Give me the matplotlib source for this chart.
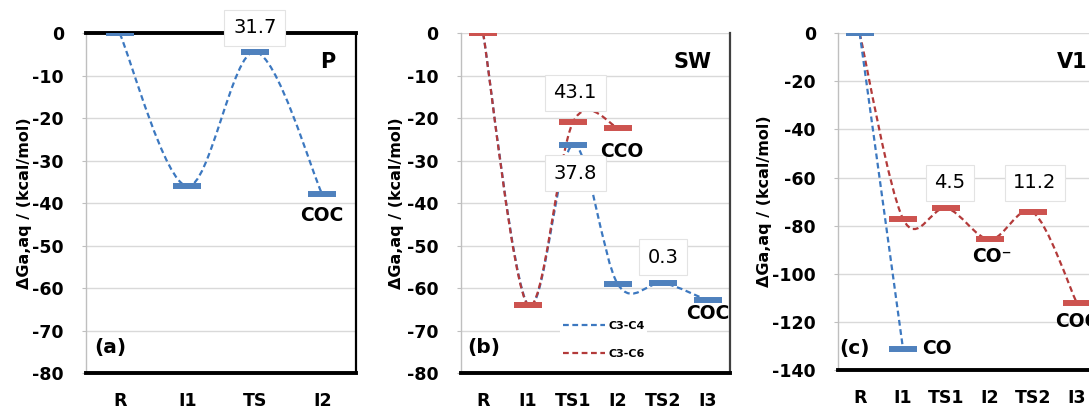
import matplotlib
matplotlib.use("Agg")
import matplotlib.pyplot as plt
from matplotlib.path import Path
from matplotlib.patches import PathPatch
from matplotlib.lines import Line2D

# ---- data (kcal/mol) ----
cats_a = ["R", "I1", "TS", "I2"]
p_path = [0.0, -36.0, -4.3, -37.9]

cats_b = ["R", "I1", "TS1", "I2", "TS2", "I3"]
sw_c3c4 = [0.0, -64.0, -26.2, -59.1, -58.8, -62.9]
sw_c3c6 = [0.0, -64.0, -20.9, -22.2]

cats_c = ["R", "I1", "TS1", "I2", "TS2", "I3"]
v1_co = [0.0, -131.4]
v1_coc = [0.0, -77.2, -72.7, -85.7, -74.5, -112.0]

BLUE_LINE = "#3C78C0"
BLUE_BAR = "#4F81BD"
RED_LINE = "#B33A3A"
RED_BAR = "#CD534F"
GRID = "#D9D9D9"

plt.rcParams["axes.unicode_minus"] = False
plt.rcParams["font.family"] = ["DejaVu Sans"]

fig = plt.figure(figsize=(10.89, 4.09), dpi=100)


def smooth_patch(ax, ys, color, x0=0):
    """Excel-style smoothed connector through the level centres."""
    pts = [(x0 + i, y) for i, y in enumerate(ys)]
    n = len(pts)
    verts = [pts[0]]
    codes = [Path.MOVETO]
    for i in range(n - 1):
        p_prev = pts[i - 1] if i > 0 else pts[i]
        p0 = pts[i]
        p1 = pts[i + 1]
        p_next = pts[i + 2] if i + 2 < n else pts[i + 1]
        c1 = (p0[0] + (p1[0] - p_prev[0]) / 6.0, p0[1] + (p1[1] - p_prev[1]) / 6.0)
        c2 = (p1[0] - (p_next[0] - p0[0]) / 6.0, p1[1] - (p_next[1] - p0[1]) / 6.0)
        verts += [c1, c2, p1]
        codes += [Path.CURVE4] * 3
    patch = PathPatch(Path(verts, codes), fill=False, edgecolor=color, lw=1.6,
                      linestyle=(0, (2.6, 1.6)), zorder=3)
    ax.add_patch(patch)


def levels(ax, ys, color, x0=0):
    xs = [x0 + i for i in range(len(ys))]
    ax.plot(xs, ys, linestyle="none", marker="_", markersize=19.5,
            markeredgewidth=4.3, color=color, zorder=4)


def style_axes(ax, cats, ylim, step, ylab_off):
    ax.set_xlim(-0.5, len(cats) - 0.5)
    ax.set_ylim(*ylim)
    ax.set_yticks(range(ylim[0], ylim[1] + 1, step))
    ax.set_xticks(range(len(cats)))
    ax.set_xticklabels(cats, fontsize=12.5, fontweight="bold")
    for lab in ax.get_yticklabels():
        lab.set_fontsize(12.5)
        lab.set_fontweight("bold")
    ax.tick_params(axis="x", length=0, pad=14)
    ax.tick_params(axis="y", length=3, width=0.8, color="#BFBFBF", pad=13)
    ax.grid(axis="y", color=GRID, lw=1.0, zorder=0)
    ax.set_axisbelow(True)
    ax.spines["left"].set_color("#BFBFBF")
    ax.spines["left"].set_linewidth(1.0)
    ax.spines["bottom"].set_color("black")
    ax.spines["bottom"].set_linewidth(2.8)
    ax.set_ylabel("ΔGa,aq / (kcal/mol)", fontsize=11.5, fontweight="bold")
    ax.yaxis.set_label_coords(ylab_off, 0.5)


def value_box(ax, x, y, text):
    ax.text(x, y, text, ha="center", va="center", fontsize=14, zorder=6,
            clip_on=False,
            bbox=dict(boxstyle="square,pad=0.45", fc="white", ec="#E3E3E3", lw=0.8))


def tag(ax, x, y, text, size=13.5, ha="center", transform=None):
    kw = {} if transform is None else {"transform": transform}
    ax.text(x, y, text, ha=ha, va="center", fontsize=size, fontweight="bold",
            zorder=6, clip_on=False, **kw)


# ---- (a) pyrrolic / P ----
ax1 = fig.add_axes([0.0790, 0.0880, 0.2479, 0.8301])
style_axes(ax1, cats_a, (-80, 0), 10, -54 / 270)
ax1.spines["top"].set_color("black")
ax1.spines["top"].set_linewidth(2.8)
ax1.spines["right"].set_color("black")
ax1.spines["right"].set_linewidth(1.6)
smooth_patch(ax1, p_path, BLUE_LINE)
levels(ax1, p_path, BLUE_BAR)
value_box(ax1, 2, 1.3, f"{p_path[2] - p_path[1]:.1f}")
tag(ax1, 0.896, 0.916, "P", size=15, transform=ax1.transAxes)
tag(ax1, 3, -42.8, "COC")
tag(ax1, 0.089, 0.074, "(a)", size=14.5, transform=ax1.transAxes)

# ---- (b) Stone-Wales / SW ----
ax2 = fig.add_axes([0.4231, 0.0880, 0.2473, 0.8301])
style_axes(ax2, cats_b, (-80, 0), 10, -57 / 269)
ax2.spines["top"].set_visible(False)
ax2.spines["right"].set_color("#404040")
ax2.spines["right"].set_linewidth(1.6)
smooth_patch(ax2, sw_c3c4, BLUE_LINE)
levels(ax2, sw_c3c4, BLUE_BAR)
smooth_patch(ax2, sw_c3c6, RED_LINE)
levels(ax2, sw_c3c6, RED_BAR)
value_box(ax2, 2.05, -14.0, f"{sw_c3c6[2] - sw_c3c6[1]:.1f}")
value_box(ax2, 2.05, -32.9, f"{sw_c3c4[2] - sw_c3c4[1]:.1f}")
value_box(ax2, 4.01, -52.7, f"{sw_c3c4[4] - sw_c3c4[3]:.1f}")
tag(ax2, 3.09, -27.9, "CCO")
tag(ax2, 5.0, -65.9, "COC")
tag(ax2, 0.859, 0.916, "SW", size=15, transform=ax2.transAxes)
tag(ax2, 0.087, 0.074, "(b)", size=14.5, transform=ax2.transAxes)
handles = [
    Line2D([], [], color=BLUE_LINE, lw=1.6, linestyle=(0, (2.6, 1.6))),
    Line2D([], [], color=RED_LINE, lw=1.6, linestyle=(0, (2.6, 1.6))),
]
leg = ax2.legend(handles, ["C3-C4", "C3-C6"], loc="center",
                 bbox_to_anchor=(0.53, 0.097), frameon=True, framealpha=1,
                 facecolor="white", edgecolor="none", handlelength=3.8,
                 handletextpad=0.3, labelspacing=1.6, borderpad=0.2,
                 prop={"size": 8, "weight": "bold"})
leg.set_zorder(5)

# ---- (c) vacancy / V1 ----
ax3 = fig.add_axes([0.7695, 0.0954, 0.2391, 0.8232])
style_axes(ax3, cats_c, (-140, 0), 20, -66 / 260.4)
ax3.spines["top"].set_visible(False)
ax3.spines["right"].set_visible(False)
smooth_patch(ax3, v1_coc, RED_LINE)
levels(ax3, v1_coc, RED_BAR)
smooth_patch(ax3, v1_co, BLUE_LINE)
levels(ax3, v1_co, BLUE_BAR)
value_box(ax3, 2.08, -62.2, f"{v1_coc[2] - v1_coc[1]:.1f}")
value_box(ax3, 4.04, -62.2, f"{v1_coc[4] - v1_coc[3]:.1f}")
tag(ax3, 3.05, -93.0, "CO⁻")
tag(ax3, 5.0, -120.0, "COC")
tag(ax3, 1.44, -130.9, "CO", ha="left")
tag(ax3, -0.11, -130.9, "(c)", size=14.5)
tag(ax3, 4.89, -11.9, "V1", size=15)

fig.savefig("out.png", dpi=100)
